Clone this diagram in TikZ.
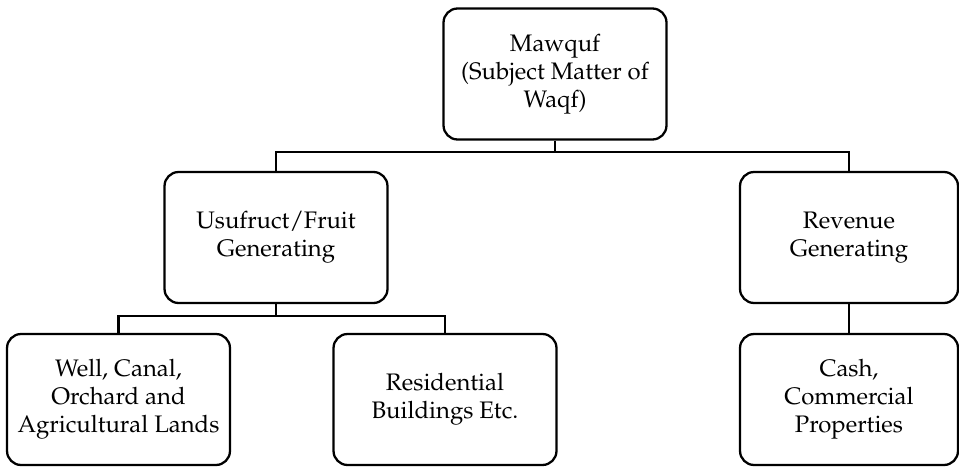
\documentclass[tikz,border=0pt]{standalone}
\usepackage[T1]{fontenc}
\usepackage{mathpazo}
\usepackage{tikz}
\usetikzlibrary{positioning}
\tikzset{
  waqfbox/.style={draw=black, line width=1.3pt, rounded corners=8pt, align=center,
    minimum width=4.46cm, minimum height=2.62cm, inner sep=2pt,
    font=\fontsize{13.6}{16}\selectfont},
  link/.style={black, line width=1.3pt}
}
\begin{document}
\begin{tikzpicture}[x=0.02cm, y=-0.02cm]
  \useasboundingbox (0,0) rectangle (959,466);
  % top level
  \node[waqfbox] (mawquf) at (555,74) {Mawquf\\(Subject Matter of\\Waqf)};
  % second level
  \node[waqfbox] (usufruct) at (276,237.5) {Usufruct/Fruit\\Generating};
  \node[waqfbox, minimum width=4.36cm] (revenue) at (849,237.5) {Revenue\\Generating};
  % third level
  \node[waqfbox] (well) at (118.5,399.5) {Well, Canal,\\Orchard and\\Agricultural Lands};
  \node[waqfbox] (residential) at (445,399.5) {Residential\\Buildings Etc.};
  \node[waqfbox, minimum width=4.36cm] (cash) at (849,399.5) {Cash,\\Commercial\\Properties};
  % connectors
  \coordinate (topbus) at (555,152);
  \coordinate (leftbus) at (276,316);
  \draw[link] (mawquf.south) -- (topbus);
  \draw[link] (usufruct.north) |- (topbus) -| (revenue.north);
  \draw[link] (usufruct.south) -- (leftbus);
  \draw[link] (well.north) |- (leftbus) -| (residential.north);
  \draw[link] (revenue.south) -- (cash.north);
\end{tikzpicture}
\end{document}
